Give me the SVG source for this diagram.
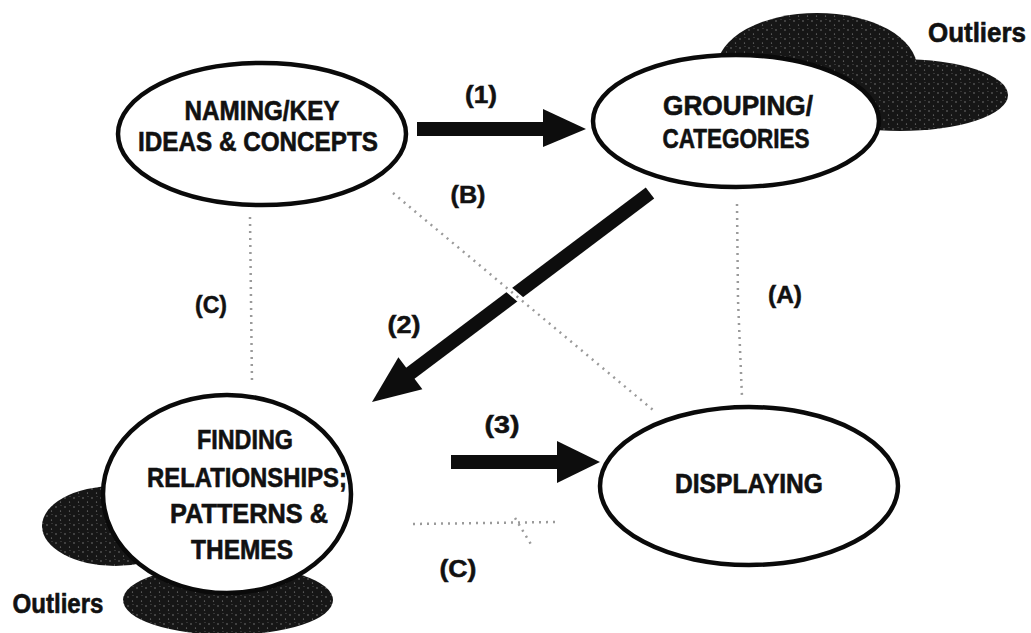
<svg xmlns="http://www.w3.org/2000/svg" width="1031" height="633" viewBox="0 0 1031 633">
<style>
  .node { fill: #ffffff; stroke: #0a0a0a; stroke-width: 4.5; }
  .blob { fill: url(#speckle); }
  .t { font-family: "Liberation Sans", Arial, sans-serif; font-weight: 700; font-size: 27px; fill: #111; stroke: #111; stroke-width: 0.6; text-anchor: middle; }
  .lbl { font-family: "Liberation Sans", Arial, sans-serif; font-weight: 700; font-size: 24px; fill: #111; stroke: #111; stroke-width: 0.5; text-anchor: middle; }
  .out { font-family: "Liberation Sans", Arial, sans-serif; font-weight: 700; font-size: 27px; fill: #111; stroke: #111; stroke-width: 0.6; text-anchor: middle; }
  .shaft { stroke: #0d0d0d; stroke-width: 14; fill: none; }
  .head { fill: #0d0d0d; }
  .dot { stroke: #9a9a9a; stroke-width: 2.5; stroke-dasharray: 2 5; fill: none; }
</style>
<defs>
  <pattern id="speckle" width="9" height="9" patternUnits="userSpaceOnUse">
    <rect width="9" height="9" fill="#161616"/>
    <circle cx="2" cy="3" r="0.8" fill="#777"/>
    <circle cx="6.5" cy="7" r="0.6" fill="#999"/>
    <circle cx="7" cy="1.5" r="0.5" fill="#666"/>
  </pattern>
</defs>
<rect width="1031" height="633" fill="#ffffff"/>

<g id="outliers-top">
  <ellipse class="blob" cx="817" cy="68" rx="100" ry="55"/>
  <ellipse class="blob" cx="900" cy="95" rx="108" ry="36"/>
  <text class="out" x="977" y="42" textLength="98" lengthAdjust="spacingAndGlyphs">Outliers</text>
</g>
<g id="outliers-bottom">
  <ellipse class="blob" cx="115" cy="526" rx="73" ry="40"/>
  <ellipse class="blob" cx="228" cy="600" rx="105" ry="35"/>
  <text class="out" x="58" y="613" textLength="91" lengthAdjust="spacingAndGlyphs">Outliers</text>
</g>

<g id="connectors">
  <!-- (1) -->
  <line class="shaft" x1="417" y1="129" x2="548" y2="129"/>
  <polygon class="head" points="543,109 586,129 543,147"/>
  <!-- (2) -->
  <line class="shaft" x1="650" y1="193" x2="408" y2="375"/>
  <polygon class="head" points="372,402 398.4,357.2 422.4,389.2"/>
  <!-- gap where (B) crosses (2) -->
  <line x1="500" y1="282" x2="528" y2="306" stroke="#ffffff" stroke-width="7"/>
  <!-- (3) -->
  <line class="shaft" x1="451" y1="462" x2="562" y2="462"/>
  <polygon class="head" points="557,441 600,462 557,483"/>
  <!-- dotted (A) -->
  <path class="dot" d="M737,204 L738,300 L742,397"/>
  <!-- dotted (B) -->
  <line class="dot" x1="393" y1="193" x2="653" y2="410"/>
  <!-- dotted (C) left -->
  <line class="dot" x1="250" y1="217" x2="252" y2="383"/>
  <!-- dotted (C) bottom -->
  <path class="dot" d="M413,524 L555,522 M515,518 L532,546"/>
  <text class="lbl" x="481" y="103" textLength="32" lengthAdjust="spacingAndGlyphs">(1)</text>
  <text class="lbl" x="404" y="333" textLength="33" lengthAdjust="spacingAndGlyphs">(2)</text>
  <text class="lbl" x="502" y="433" textLength="35" lengthAdjust="spacingAndGlyphs">(3)</text>
  <text class="lbl" x="785" y="303" textLength="34" lengthAdjust="spacingAndGlyphs">(A)</text>
  <text class="lbl" x="468" y="203" textLength="35" lengthAdjust="spacingAndGlyphs">(B)</text>
  <text class="lbl" x="211" y="313" textLength="32" lengthAdjust="spacingAndGlyphs">(C)</text>
  <text class="lbl" x="458" y="577" textLength="37" lengthAdjust="spacingAndGlyphs">(C)</text>
</g>

<g id="naming">
  <ellipse class="node" cx="262" cy="134" rx="144" ry="71"/>
  <text class="t" x="262" y="120" textLength="155" lengthAdjust="spacingAndGlyphs">NAMING/KEY</text>
  <text class="t" x="258" y="151" textLength="240" lengthAdjust="spacingAndGlyphs">IDEAS &amp; CONCEPTS</text>
</g>
<g id="grouping">
  <ellipse class="node" cx="736" cy="121" rx="143" ry="66"/>
  <text class="t" x="738" y="115" textLength="150" lengthAdjust="spacingAndGlyphs">GROUPING/</text>
  <text class="t" x="736" y="148" textLength="147" lengthAdjust="spacingAndGlyphs">CATEGORIES</text>
</g>
<g id="finding">
  <ellipse class="node" cx="227" cy="494" rx="124" ry="99"/>
  <text class="t" x="245" y="449" textLength="96" lengthAdjust="spacingAndGlyphs">FINDING</text>
  <text class="t" x="247" y="487" textLength="200" lengthAdjust="spacingAndGlyphs">RELATIONSHIPS;</text>
  <text class="t" x="249" y="523" textLength="158" lengthAdjust="spacingAndGlyphs">PATTERNS &amp;</text>
  <text class="t" x="242" y="559" textLength="102" lengthAdjust="spacingAndGlyphs">THEMES</text>
</g>
<g id="displaying">
  <ellipse class="node" cx="749" cy="486" rx="149" ry="79"/>
  <text class="t" x="749" y="493" textLength="148" lengthAdjust="spacingAndGlyphs">DISPLAYING</text>
</g>
</svg>
